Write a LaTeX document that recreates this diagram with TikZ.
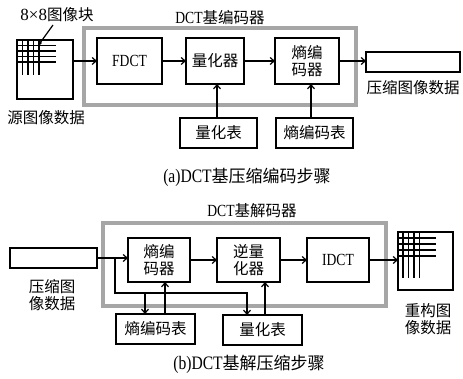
\documentclass[tikz,border=0pt]{standalone}
\usepackage{fontspec}
\usepackage{graphicx}
\setmainfont{Liberation Serif}
\newfontfamily\cjk{Noto Sans CJK SC}
\usetikzlibrary{arrows.meta}
\newcommand\lt[1]{{\rmfamily\fontsize{17}{19}\selectfont\scalebox{0.8}[1]{#1}}}
\newcommand\ltc[1]{{\rmfamily\fontsize{19}{21}\selectfont\scalebox{0.82}[1]{#1}}}
\begin{document}
\begin{tikzpicture}[x=1pt,y=-1pt,
  every node/.style={font=\cjk\fontsize{15.5}{17}\selectfont, inner sep=0pt, outer sep=0pt},
  box/.style={draw, line width=1.3pt, align=center},
  capt/.style={font=\cjk\fontsize{17}{19}\selectfont},
  arr/.style={-{Straight Barb[length=4pt,width=7pt]}, line width=1.2pt},
  frame/.style={draw=gray!70, line width=3.8pt},
  ln/.style={line width=1.2pt}]
\useasboundingbox (0,0) rectangle (463,379);

% ---------- (a) ----------
\draw[frame] (84,28) rectangle (356,105);
\node[box, minimum width=56pt, minimum height=59pt] (src) at (45,69.5) {};
\foreach \x in {22.5,28,33.5,39} \draw[ln] (\x,40) -- (\x,75);
\foreach \y in {45.5,51,56.5,62} \draw[ln] (17,\y) -- (56,\y);
\node (blk) at (57,15) {{\rmfamily\fontsize{17}{19}\selectfont 8×8}图像块};
\fill (40,43) circle (1.8pt);
\draw[ln] (40,43) -- (53,25);
\node (lsrc) at (46,118) {源图像数据};

\node (enc) at (220,18) {\lt{DCT}基编码器};
\node[box, minimum width=65pt, minimum height=46pt] (F) at (129.5,61) {\lt{FDCT}};
\node[box, minimum width=58pt, minimum height=46pt] (Q) at (215,61) {量化器};
\node[box, minimum width=64pt, minimum height=46pt] (E) at (307,61) {熵编\\码器};
\node[box, minimum width=94pt, minimum height=20pt] (out) at (413,62) {};
\node (lout) at (413,88) {压缩图像数据};
\node[box, minimum width=77pt, minimum height=30pt] (QT) at (218.5,133) {量化表};
\node[box, minimum width=77pt, minimum height=30pt] (ET) at (314.5,133) {熵编码表};

\draw[arr] (src.east |- F.west) -- (F.west);
\draw[arr] (F.east) -- (Q.west);
\draw[arr] (Q.east) -- (E.west);
\draw[arr] (E.east) -- (out.west |- E.east);
\draw[arr] ([xshift=-1.5pt]QT.north) -- ([xshift=-1.5pt]QT.north |- Q.south);
\draw[arr] ([xshift=4pt]E.south |- ET.north) -- ([xshift=4pt]E.south);

\node[capt] (capa) at (247,177) {\ltc{(a)DCT}基压缩编码步骤};

% ---------- (b) ----------
\node (dec) at (252,211) {\lt{DCT}基解码器};
\draw[frame] (103,223) rectangle (386,306);
\node[box, minimum width=87pt, minimum height=20pt] (in) at (53.5,258) {};
\node[align=center] (lin) at (52,295) {压缩图\\像数据};
\node[box, minimum width=62pt, minimum height=44pt] (E2) at (159,260) {熵编\\码器};
\node[box, minimum width=63pt, minimum height=44pt] (IQ) at (248.5,260) {逆量\\化器};
\node[box, minimum width=62pt, minimum height=44pt] (ID) at (338,260) {\lt{IDCT}};
\node[box, minimum width=55pt, minimum height=58pt] (rec) at (425.5,261) {};
\foreach \x in {403,408.5,414,419.5} \draw[ln] (\x,232) -- (\x,278);
\foreach \y in {238,244,250,256} \draw[ln] (398,\y) -- (436,\y);
\node[align=center] (lrec) at (428,319) {重构图\\像数据};
\node[box, minimum width=79pt, minimum height=30pt] (ET2) at (155.5,329) {熵编码表};
\node[box, minimum width=79pt, minimum height=30pt] (QT2) at (262.5,330) {量化表};

\coordinate (j) at (115,258);
\coordinate (k) at (115,293);
\coordinate (m) at (247,293);
\coordinate (b) at (145,293);
\draw[arr] (in.east) -- (E2.west |- in.east);
\draw[arr] (j) -- (k) -- (m) -- (m |- QT2.north);
\draw[arr] (b) -- (b |- ET2.north);
\draw[arr] ([xshift=9.5pt]ET2.north) -- ([xshift=9.5pt]ET2.north |- E2.south);
\draw[arr] ([xshift=2.5pt]QT2.north) -- ([xshift=2.5pt]QT2.north |- IQ.south);
\draw[arr] (E2.east) -- (IQ.west);
\draw[arr] (IQ.east) -- (ID.west);
\draw[arr] (ID.east) -- (rec.west |- ID.east);

\node[capt] (capb) at (249,364) {\ltc{(b)DCT}基解压缩步骤};
\end{tikzpicture}
\end{document}
